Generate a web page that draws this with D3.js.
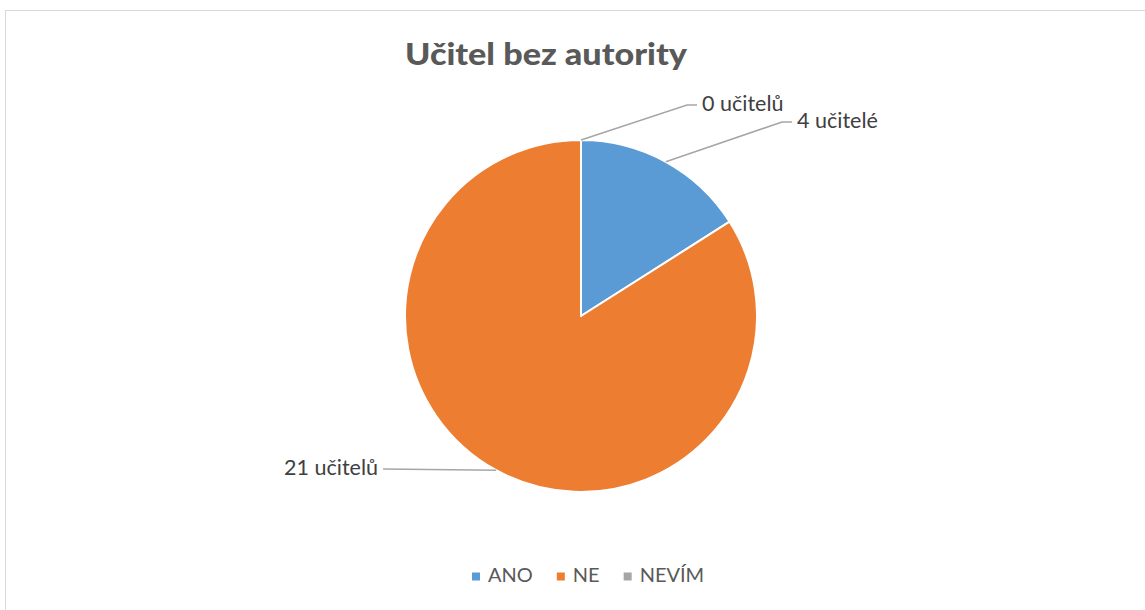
<!DOCTYPE html>
<html><head><meta charset="utf-8">
<script src="https://cdn.jsdelivr.net/npm/d3@7"></script>
<style>html,body{margin:0;padding:0;background:#fff;}svg{display:block;font-family:Lato,"Open Sans",sans-serif;}</style>
</head><body>
<svg id="chart" width="1145" height="610"></svg>
<script>
const categories = ["ANO", "NE", "NEVÍM"];
const values = [4, 21, 0];
const labels = ["4 učitelé", "21 učitelů", "0 učitelů"];
const colors = ["#5B9BD5", "#ED7D31", "#A5A5A5"];
const title = "Učitel bez autority";

const W = 1145, H = 610;
const svg = d3.select("#chart");
svg.append("rect").attr("x", 5.5).attr("y", 10.5).attr("width", W + 10).attr("height", H + 10)
  .attr("fill", "#fff").attr("stroke", "#D9D9D9").attr("stroke-width", 1);

const cx = 581, cy = 316, R = 176;
const data = categories.map((c, i) => ({cat: c, value: values[i], label: labels[i], color: colors[i]}));
const pie = d3.pie().value(d => d.value).sort(null);
const arcs = pie(data);
const arc = d3.arc().innerRadius(0).outerRadius(R);
const g = svg.append("g").attr("transform", `translate(${cx},${cy})`);
g.selectAll("path").data(arcs).join("path")
  .attr("d", arc).attr("fill", d => d.data.color)
  .attr("stroke", "#fff").attr("stroke-width", 2).attr("stroke-linejoin", "round");

// title
const t = svg.append("text").attr("x", 546).attr("y", 65).attr("text-anchor", "middle")
  .attr("font-weight", 900).attr("font-size", 31).attr("fill", "#595959").text(title);
t.attr("textLength", 282).attr("lengthAdjust", "spacingAndGlyphs");

// label layout: elbow point offset from center, text side
const labelLayout = {
  "ANO":   {elbow: [201, -194], run: 10, anchor: "start"},
  "NE":    {elbow: [-198, 153], run: 0, anchor: "end"},
  "NEVÍM": {elbow: [106, -211], run: 10, anchor: "start"}
};
arcs.forEach(a => {
  const mid = (a.startAngle + a.endAngle) / 2;
  const p0 = [R * Math.sin(mid), -R * Math.cos(mid)];
  const L = labelLayout[a.data.cat];
  const e = L.elbow;
  const dir = L.anchor === "start" ? 1 : -1;
  const e2 = [e[0] + dir * L.run, e[1]];
  g.append("polyline").attr("points", [p0, e, e2].map(p => p.join(",")).join(" "))
    .attr("fill", "none").attr("stroke", "#A6A6A6").attr("stroke-width", 1.5);
  g.append("text").attr("x", e2[0] + dir * 5).attr("y", e2[1] + 1)
    .attr("text-anchor", L.anchor).attr("dominant-baseline", "middle")
    .attr("font-size", 21.5).attr("fill", "#404040").text(a.data.label);
});

// legend
const leg = svg.append("g");
let x = 472;
const ly = 577;
data.forEach(d => {
  leg.append("rect").attr("x", x).attr("y", ly - 4.5).attr("width", 8).attr("height", 8).attr("fill", d.color);
  const tx = leg.append("text").attr("x", x + 16).attr("y", ly).attr("dominant-baseline", "middle")
    .attr("font-size", 20).attr("fill", "#595959").text(d.cat);
  x += 16 + tx.node().getComputedTextLength() + 24;
});
</script>
</body></html>
